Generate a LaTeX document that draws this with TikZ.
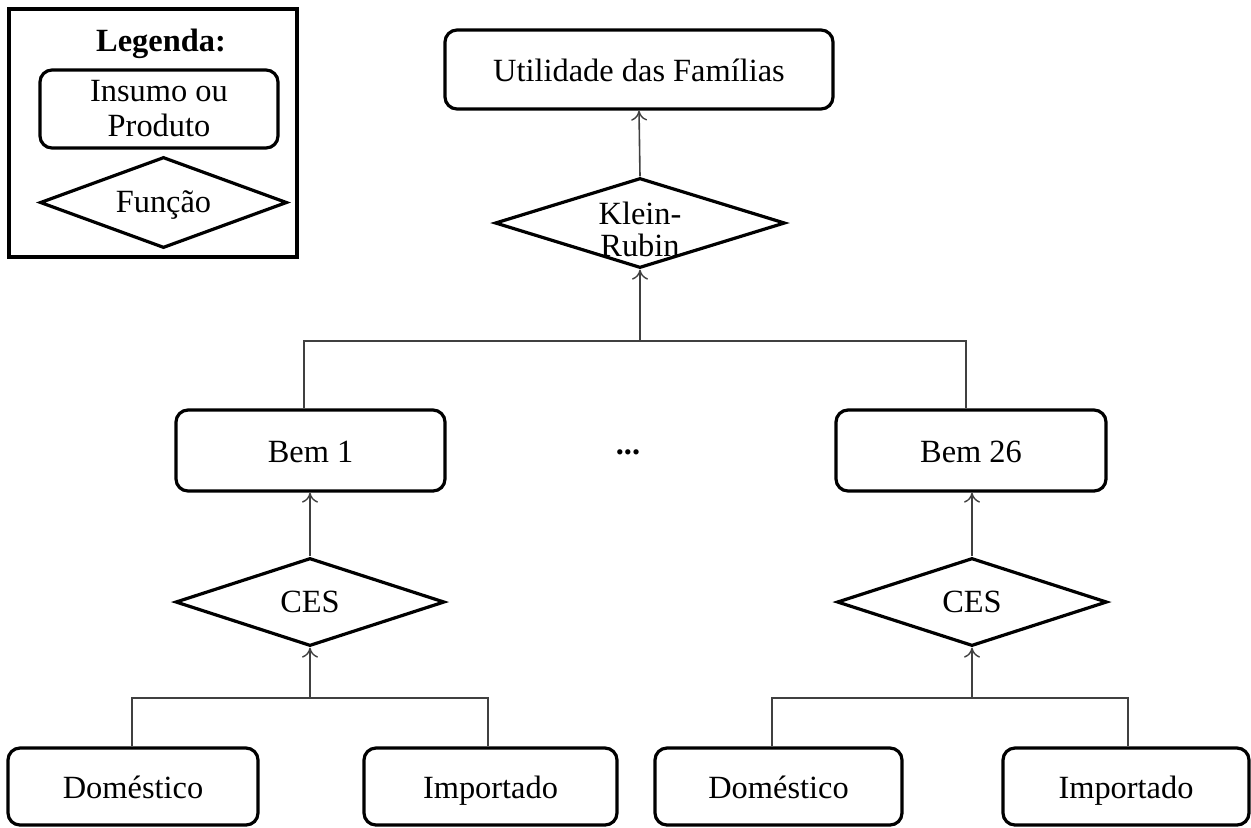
\documentclass[tikz,border=0pt]{standalone}
\usepackage{fontspec}
\setmainfont{Liberation Serif}
\usetikzlibrary{shapes.geometric,arrows.meta}
\begin{document}
\begin{tikzpicture}[x=0.5pt,y=-0.5pt,
  every node/.style={font=\fontsize{16.2}{17.5}\selectfont},
  boxnode/.style={draw, line width=1.6pt, rounded corners=6pt, inner sep=0pt, align=center},
  onel/.style={text height=12pt, text depth=0pt},
  dtext/.style={text height=10pt, text depth=0pt},
  diam/.style={draw, diamond, line width=1.6pt, inner sep=0pt},
  conn/.style={line width=0.8pt, draw=black!75},
  arr/.style={conn, -{To[length=5pt,width=8pt,line width=0.7pt]}}]
\useasboundingbox (0,0) rectangle (1251,827);
% legend
\node[draw, line width=1.6pt, minimum width=144pt, minimum height=124pt, inner sep=0pt] (leg) at (153,133) {};
\node[font=\fontsize{16.2}{17.5}\selectfont\bfseries] (legt) at (161,44) {Legenda:};
\node[boxnode, minimum width=119pt, minimum height=39pt, font=\fontsize{16.2}{17.5}\selectfont] (legbox) at (159,109) {Insumo ou\\Produto};
\node[diam, minimum width=123.5pt, minimum height=45.5pt, label={[dtext]center:Função}] (legdiam) at (163.5,202.5) {};
% main
\node[boxnode, onel, minimum width=194pt, minimum height=39.5pt] (top) at (639,69.5) {Utilidade das Famílias};
\node[diam, minimum width=145pt, minimum height=45pt,
  label={[yshift=-3pt, align=center, font=\fontsize{16.2}{16}\selectfont]center:Klein-\\Rubin}] (kr) at (640,223) {};
\node[boxnode, onel, minimum width=134.5pt, minimum height=40.5pt] (bem1) at (310.5,450.5) {Bem 1};
\node[boxnode, onel, minimum width=135pt, minimum height=40.5pt] (bem26) at (971,450.5) {Bem 26};
\node[font=\fontsize{16.2}{17.5}\selectfont\bfseries] (dots) at (628,452) {...};
\node[diam, minimum width=134.5pt, minimum height=44pt, label={[dtext]center:CES}] (cesL) at (310,602) {};
\node[diam, minimum width=135pt, minimum height=44pt, label={[dtext]center:CES}] (cesR) at (972,602) {};
\node[boxnode, onel, minimum width=125pt, minimum height=38.5pt] (domL) at (133,786.5) {Doméstico};
\node[boxnode, onel, minimum width=126.5pt, minimum height=38.5pt] (impL) at (490.5,786.5) {Importado};
\node[boxnode, onel, minimum width=123.5pt, minimum height=38.5pt] (domR) at (778.5,786.5) {Doméstico};
\node[boxnode, onel, minimum width=123pt, minimum height=38.5pt] (impR) at (1126,786.5) {Importado};
% connectors
\coordinate (jk) at (640,341);
\coordinate (jL) at (310,698);
\coordinate (jR) at (972,698);
\draw[arr] (kr.north) -- (top.south);
\draw[conn] ([xshift=-3.25pt]bem1.north) |- (jk) -| ([xshift=-2.5pt]bem26.north);
\draw[arr] (jk) -- (kr.south);
\draw[arr] (cesL.north) -- (cesL.north |- bem1.south);
\draw[arr] (cesR.north) -- (cesR.north |- bem26.south);
\draw[conn] ([xshift=-0.5pt]domL.north) |- (jL) -| ([xshift=-1.25pt]impL.north);
\draw[arr] (jL) -- (cesL.south);
\draw[conn] ([xshift=-3.25pt]domR.north) |- (jR) -| ([xshift=1pt]impR.north);
\draw[arr] (jR) -- (cesR.south);
\end{tikzpicture}
\end{document}
